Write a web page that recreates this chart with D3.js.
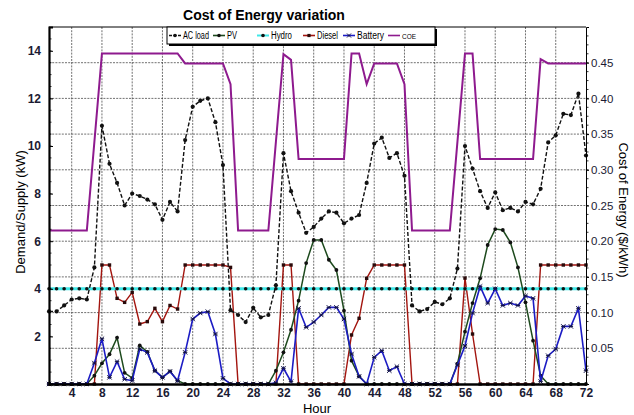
<!DOCTYPE html>
<html>
<head>
<meta charset="utf-8">
<script src="https://cdn.jsdelivr.net/npm/d3@7"></script>
<style>
  body { margin: 0; background: #fff; }
  svg text { font-family: "Liberation Sans", Arial, sans-serif; }
</style>
</head>
<body>
<svg width="634" height="415"></svg>
<script>
// hours 1..72
var hours = d3.range(1, 73);

var acLoad = [3.05,3.05,3.3,3.55,3.6,3.55,4.9,10.85,9.25,8.45,7.5,8.0,7.9,7.75,7.55,6.9,7.65,7.25,
  10.25,11.65,11.9,12.0,11.0,9.2,3.1,2.9,2.6,3.2,2.8,2.9,4.15,9.7,8.1,7.2,6.35,6.6,
  6.95,7.25,7.2,6.75,6.95,7.1,8.45,10.1,10.35,9.5,9.7,8.75,3.3,3.05,3.15,3.45,3.35,3.6,
  4.85,10.0,9.05,8.1,7.4,8.05,7.3,7.4,7.25,7.65,7.55,8.2,10.15,10.45,11.35,11.3,12.2,9.6];

var pv = [0,0,0,0,0,0,0.35,0.87,1.25,1.95,0.47,0.25,1.62,1.35,0.56,0.28,0.53,0.14,
  0,0,0,0,0,0,0,0,0,0,0,0,0.56,1.33,2.28,3.5,5.08,6.05,
  6.05,5.22,4.79,3.08,0.98,0.32,0,0,0,0,0,0,0,0,0,0,0,0,
  0.85,2.2,3.4,4.44,5.84,6.51,6.47,5.95,4.9,3.43,1.82,0.35,0,0,0,0,0,0];

var hydro = hours.map(function(){ return 4.0; });

var diesel = [0,0,0,0,0,0,0,5.0,5.0,3.6,3.43,3.85,2.52,2.62,3.18,2.62,3.3,3.15,
  5.0,5.0,5.0,5.0,5.0,5.0,4.9,0,0,0,0,0,0,5.0,5.0,0,0,0,
  0,0,0,0,2.06,2.76,4.44,5.0,5.0,5.0,5.0,5.0,0,0,0,0,0,0,
  0,4.45,2.1,0,0,0,0,0,0,0,0,5.0,5.0,5.0,5.0,5.0,5.0,5.0];

var battery = [0,0,0,0,0,0,0.88,1.9,0.28,0.94,0.2,0.14,1.47,1.33,0.56,0.28,0.53,0.14,
  1.33,2.73,2.98,3.04,2.1,0.24,0,0,0,0,0,0,0.05,0.66,0.1,3.18,2.38,2.6,
  2.9,3.22,3.22,2.73,1.26,0.32,0,1.12,1.4,0.56,0.73,0,0,0,0,0,0,0,
  0.8,1.6,2.98,4.1,3.4,4.0,3.3,3.4,3.3,3.7,3.6,0.1,1.19,1.47,2.42,2.42,3.18,0.56];

var coe = [0.215,0.215,0.215,0.215,0.215,0.215,0.339,0.463,0.463,0.463,0.463,0.463,0.463,0.463,0.463,0.463,0.463,0.463,
  0.449,0.449,0.449,0.449,0.449,0.449,0.42,0.215,0.215,0.215,0.215,0.215,0.339,0.462,0.454,0.315,0.315,0.315,
  0.315,0.315,0.315,0.315,0.463,0.463,0.42,0.449,0.449,0.449,0.449,0.42,0.215,0.215,0.215,0.215,0.215,0.215,
  0.339,0.463,0.463,0.315,0.315,0.315,0.315,0.315,0.315,0.315,0.315,0.455,0.449,0.449,0.449,0.449,0.449,0.449];

var xTicks = d3.range(4, 73, 4);
var yTicks = [2,4,6,8,10,12,14];
var y2Ticks = [0.05,0.1,0.15,0.2,0.25,0.3,0.35,0.4,0.45];

var svg = d3.select("svg");
var pLeft = 49, pRight = 586, pTop = 27, pBottom = 384;

var x = d3.scaleLinear().domain([1, 72]).range([pLeft, pRight]);
var y = d3.scaleLinear().domain([0, 15]).range([pBottom, pTop]);
var y2 = d3.scaleLinear().domain([0, 0.5]).range([pBottom, pTop]);

// grid
var grid = svg.append("g").attr("stroke", "#333").attr("stroke-width", 0.7).attr("stroke-dasharray", "2,1.2");
grid.selectAll("line.v").data(xTicks.filter(function(d){ return d < 72; })).enter().append("line")
  .attr("x1", function(d){ return x(d); }).attr("x2", function(d){ return x(d); })
  .attr("y1", pTop).attr("y2", pBottom);
grid.selectAll("line.h").data(y2Ticks).enter().append("line")
  .attr("x1", pLeft).attr("x2", pRight)
  .attr("y1", function(d){ return y2(d); }).attr("y2", function(d){ return y2(d); });

// frame top thin
svg.append("line").attr("x1", pLeft).attr("x2", pRight).attr("y1", pTop).attr("y2", pTop).attr("stroke", "#000").attr("stroke-width", 1);

function lineFor(arr, scale) {
  return d3.line().x(function(d, i){ return x(hours[i]); }).y(function(d){ return scale(d); })(arr);
}

// COE
svg.append("path").attr("d", lineFor(coe, y2)).attr("fill", "none")
  .attr("stroke", "#8e1a8e").attr("stroke-width", 2);

// Diesel
svg.append("path").attr("d", lineFor(diesel, y)).attr("fill", "none")
  .attr("stroke", "#a3150f").attr("stroke-width", 1.4);
svg.append("g").selectAll("rect").data(diesel).enter().append("rect")
  .attr("x", function(d, i){ return x(hours[i]) - 1.7; })
  .attr("y", function(d){ return y(d) - 1.7; })
  .attr("width", 3.4).attr("height", 3.4).attr("fill", "#2a0a0a");

// Hydro
svg.append("path").attr("d", lineFor(hydro, y)).attr("fill", "none")
  .attr("stroke", "#3fe8e8").attr("stroke-width", 3);
svg.append("g").selectAll("circle").data(hydro).enter().append("circle")
  .attr("cx", function(d, i){ return x(hours[i]); })
  .attr("cy", function(d){ return y(d); })
  .attr("r", 1.8).attr("fill", "#111");

// PV
svg.append("path").attr("d", lineFor(pv, y)).attr("fill", "none")
  .attr("stroke", "#1d4a1d").attr("stroke-width", 1.5);
svg.append("g").selectAll("circle").data(pv).enter().append("circle")
  .attr("cx", function(d, i){ return x(hours[i]); })
  .attr("cy", function(d){ return y(d); })
  .attr("r", 1.9).attr("fill", "#111");

// Battery
svg.append("path").attr("d", lineFor(battery, y)).attr("fill", "none")
  .attr("stroke", "#1c1cc4").attr("stroke-width", 1.6);
svg.append("g").selectAll("path").data(battery).enter().append("path")
  .attr("d", function(d, i){
    var cx = x(hours[i]), cy = y(d), s = 2.2;
    return "M" + (cx - s) + "," + (cy - s) + "L" + (cx + s) + "," + (cy + s) +
      "M" + (cx - s) + "," + (cy + s) + "L" + (cx + s) + "," + (cy - s) +
      "M" + (cx - s) + "," + cy + "L" + (cx + s) + "," + cy;
  })
  .attr("stroke", "#111144").attr("stroke-width", 1).attr("fill", "none");

// AC load
svg.append("path").attr("d", lineFor(acLoad, y)).attr("fill", "none")
  .attr("stroke", "#111").attr("stroke-width", 1.4).attr("stroke-dasharray", "4,2");
svg.append("g").selectAll("circle").data(acLoad).enter().append("circle")
  .attr("cx", function(d, i){ return x(hours[i]); })
  .attr("cy", function(d){ return y(d); })
  .attr("r", 2.1).attr("fill", "#111");

// axes
var xAxis = svg.append("g").attr("transform", "translate(0," + pBottom + ")")
  .call(d3.axisBottom(x).tickValues(xTicks).tickSize(0).tickPadding(4));
xAxis.select(".domain").attr("stroke-width", 2.5);
xAxis.selectAll("text").attr("font-size", 12).attr("font-weight", "bold").attr("fill", "#1b1b33");

var yAxis = svg.append("g").attr("transform", "translate(" + pLeft + ",0)")
  .call(d3.axisLeft(y).tickValues(yTicks).tickSize(-4).tickPadding(8));
yAxis.select(".domain").attr("stroke-width", 2.2);
yAxis.selectAll("text").attr("font-size", 12).attr("font-weight", "bold").attr("fill", "#1b1b33");
// minor ticks on left axis
svg.append("g").selectAll("line").data(d3.range(0.5, 15, 0.5)).enter().append("line")
  .attr("x1", pLeft).attr("x2", pLeft + 2.5)
  .attr("y1", function(d){ return y(d); }).attr("y2", function(d){ return y(d); })
  .attr("stroke", "#000").attr("stroke-width", 0.8);

var y2Axis = svg.append("g").attr("transform", "translate(" + pRight + ",0)")
  .call(d3.axisRight(y2).tickValues(y2Ticks).tickSize(3).tickPadding(2));
y2Axis.selectAll("text").attr("font-size", 11.5).attr("fill", "#1b1b33");
svg.append("g").selectAll("line").data(d3.range(0.0125, 0.5, 0.0125)).enter().append("line")
  .attr("x1", pRight).attr("x2", pRight + 2.5)
  .attr("y1", function(d){ return y2(d); }).attr("y2", function(d){ return y2(d); })
  .attr("stroke", "#000").attr("stroke-width", 0.8);

// titles
svg.append("text").attr("x", 264).attr("y", 20).attr("text-anchor", "middle")
  .attr("font-size", 14).attr("font-weight", "bold").text("Cost of Energy variation");
svg.append("text").attr("x", 317).attr("y", 413).attr("text-anchor", "middle")
  .attr("font-size", 13).text("Hour");
svg.append("text").attr("transform", "translate(25,212) rotate(-90)").attr("text-anchor", "middle")
  .attr("font-size", 13).text("Demand/Supply (kW)");
svg.append("text").attr("transform", "translate(619,210) rotate(90)").attr("text-anchor", "middle")
  .attr("font-size", 13).text("Cost of Energy ($/kWh)");

// legend
var legend = svg.append("g");
legend.append("rect").attr("x", 169).attr("y", 29).attr("width", 268).attr("height", 17).attr("fill", "#000");
legend.append("rect").attr("x", 167).attr("y", 27).attr("width", 268).attr("height", 17)
  .attr("fill", "#fff").attr("stroke", "#000").attr("stroke-width", 1);
var items = [
  {name: "AC load", x: 169, w: 26, color: "#111", dash: "3,1.5", mark: "circle"},
  {name: "PV", x: 213, w: 10, color: "#1d4a1d", mark: "circle"},
  {name: "Hydro", x: 257, w: 21, color: "#3fe8e8", mark: "circle"},
  {name: "Diesel", x: 303, w: 21, color: "#a3150f", mark: "square"},
  {name: "Battery", x: 343, w: 27, color: "#1c1cc4", mark: "x"},
  {name: "COE", x: 388, w: 14, color: "#8e1a8e", mark: null}
];
var ly = 35.5;
items.forEach(function(it) {
  legend.append("line").attr("x1", it.x).attr("x2", it.x + 12).attr("y1", ly).attr("y2", ly)
    .attr("stroke", it.color).attr("stroke-width", it.name === "Hydro" ? 2 : 1.6)
    .attr("stroke-dasharray", it.dash || null);
  var cx = it.x + 6;
  if (it.mark === "circle") legend.append("circle").attr("cx", cx).attr("cy", ly).attr("r", 1.8).attr("fill", "#111");
  if (it.mark === "square") legend.append("rect").attr("x", cx - 1.6).attr("y", ly - 1.6).attr("width", 3.2).attr("height", 3.2).attr("fill", "#2a0a0a");
  if (it.mark === "x") legend.append("path")
    .attr("d", "M" + (cx - 2) + "," + (ly - 2) + "L" + (cx + 2) + "," + (ly + 2) + "M" + (cx - 2) + "," + (ly + 2) + "L" + (cx + 2) + "," + (ly - 2))
    .attr("stroke", "#111144").attr("stroke-width", 1);
  legend.append("text").attr("x", it.x + 14).attr("y", ly + 3.5)
    .attr("font-size", it.name === "COE" ? 7.5 : 10)
    .attr("textLength", it.w).attr("lengthAdjust", "spacingAndGlyphs").text(it.name);
});
</script>
</body>
</html>
